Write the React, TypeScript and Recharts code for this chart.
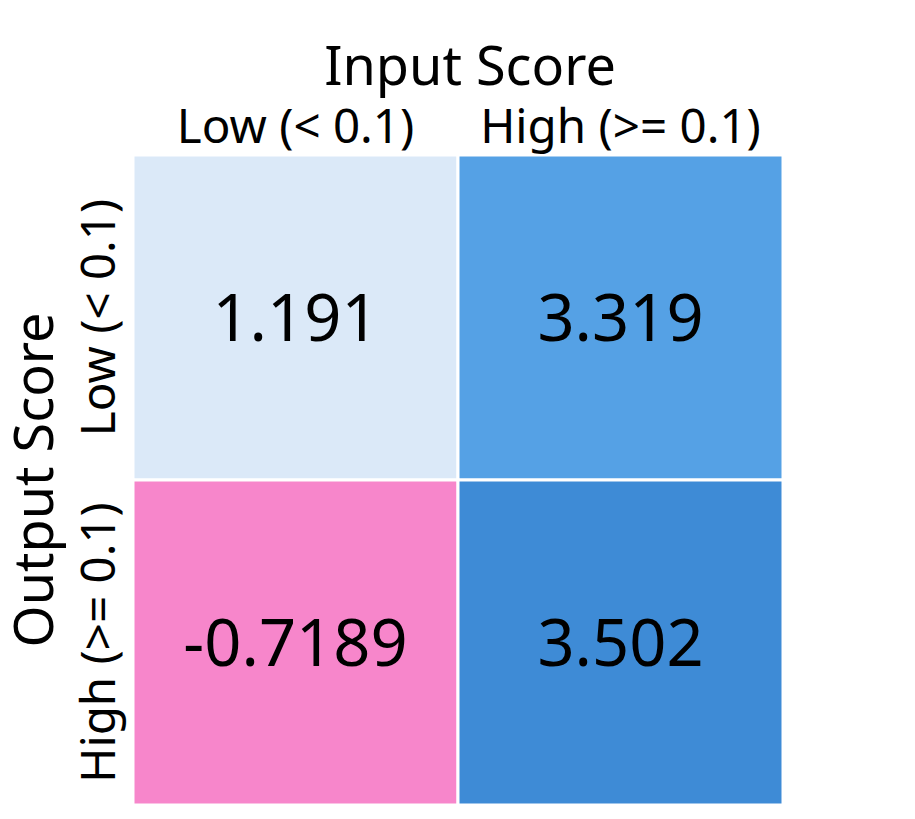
import { ScatterChart, Scatter, XAxis, YAxis, ReferenceArea } from 'recharts'

const inputLevels = ['Low (< 0.1)', 'High (>= 0.1)']
const outputLevels = ['Low (< 0.1)', 'High (>= 0.1)']
const lowOutputValues = [1.191, 3.319]
const highOutputValues = [-0.7189, 3.502]
const lowOutputColors = ['#dbe9f8', '#55a1e5']
const highOutputColors = ['#f786cb', '#3e8bd6']

const FONT = '"Noto Sans", Lato, sans-serif'
const W = 900
const H = 811

const cells = [lowOutputValues, highOutputValues].flatMap((row, r) =>
  row.map((v, c) => ({
    x: c + 0.5,
    y: r + 0.5,
    value: v,
    color: (r === 0 ? lowOutputColors : highOutputColors)[c],
  }))
)

function XTick({ x, payload }: any) {
  const label = inputLevels[Math.floor(payload.value)]
  return (
    <text x={x} y={135} textAnchor="middle" fontSize={47.5} fontFamily={FONT} fill="#000">
      {label}
    </text>
  )
}

function YTick({ y, payload }: any) {
  const label = outputLevels[Math.floor(payload.value)]
  return (
    <text
      x={107}
      y={y}
      transform={`rotate(-90, 107, ${y})`}
      textAnchor="middle"
      fontSize={47.5}
      fontFamily={FONT}
      fill="#000"
    >
      {label}
    </text>
  )
}

export default function App() {
  return (
    <div style={{ width: W, height: H }}>
      <ScatterChart width={W} height={H} margin={{ top: 0, right: 125, bottom: 14, left: 0 }}>
        <XAxis
          type="number"
          dataKey="x"
          domain={[0, 2]}
          ticks={[0.5, 1.5]}
          orientation="top"
          height={147}
          axisLine={false}
          tickLine={false}
          tick={<XTick />}
          label={{
            content: () => (
              <text x={462} y={77} textAnchor="middle" fontSize={54} fontFamily={FONT} fill="#000">
                Input Score
              </text>
            ),
          }}
        />
        <YAxis
          type="number"
          dataKey="y"
          domain={[0, 2]}
          reversed
          ticks={[0.5, 1.5]}
          width={125}
          axisLine={false}
          tickLine={false}
          tick={<YTick />}
          label={{
            content: () => (
              <text
                x={45}
                y={472}
                transform="rotate(-90, 45, 472)"
                textAnchor="middle"
                fontSize={54}
                fontFamily={FONT}
                fill="#000"
              >
                Output Score
              </text>
            ),
          }}
        />
        {cells.map((c) => (
          <ReferenceArea
            key={`${c.x}-${c.y}`}
            x1={c.x - 0.5}
            x2={c.x + 0.5}
            y1={c.y - 0.5}
            y2={c.y + 0.5}
            fill={c.color}
            fillOpacity={1}
            stroke="#fff"
            strokeWidth={3}
            label={{ value: String(c.value), position: 'center', fontSize: 65, fontFamily: FONT, fill: '#000' }}
          />
        ))}
        <Scatter data={cells} isAnimationActive={false} shape={() => <g />} />
      </ScatterChart>
    </div>
  )
}
